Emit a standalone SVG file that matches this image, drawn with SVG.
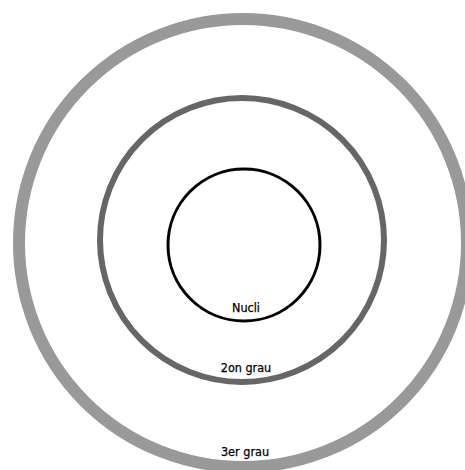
<svg xmlns="http://www.w3.org/2000/svg" width="465" height="470" viewBox="0 0 465 470">
<style>
.ring{fill:none}
.lbl{font-family:"DejaVu Sans Condensed","DejaVu Sans",sans-serif;font-stretch:condensed;font-size:12.5px;fill:#000;text-anchor:middle;stroke:#000;stroke-width:0.25}
</style>
<rect width="465" height="470" fill="#fff"/>
<g id="grau3">
<circle class="ring" cx="243" cy="243" r="224" stroke="#999" stroke-width="12"/>
<text class="lbl" x="245" y="456">3er grau</text>
</g>
<g id="grau2">
<circle class="ring" cx="242" cy="240" r="142" stroke="#666" stroke-width="6"/>
<text class="lbl" x="246" y="372">2on grau</text>
</g>
<g id="nucli">
<circle class="ring" cx="244" cy="245" r="76" stroke="#000" stroke-width="3"/>
<text class="lbl" x="246" y="312">Nucli</text>
</g>
<g id="connectors"/>
</svg>
